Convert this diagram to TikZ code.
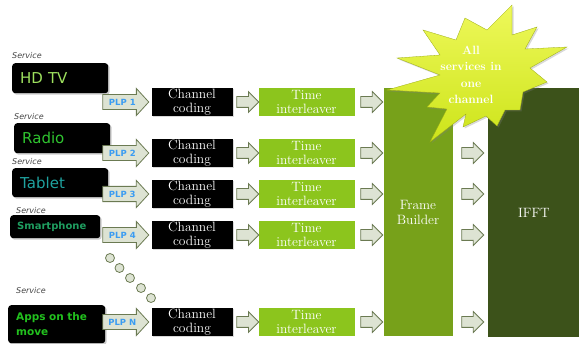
\documentclass[tikz,border=0pt]{standalone}
\usepackage{fontspec}
\usepackage{xcolor}
\usepackage{tikz}
\usetikzlibrary{shapes.arrows, positioning, shadows, calc}
\newfontfamily\svcfont{DejaVu Sans}
\definecolor{plpblue}{HTML}{3A9CF2}
\definecolor{arrowfill}{HTML}{DDE3D3}
\definecolor{arrowline}{HTML}{6B7A52}
\definecolor{tigreen}{HTML}{8CC51D}
\definecolor{fbgreen}{HTML}{77A11A}
\definecolor{ifftgreen}{HTML}{3C521A}
\definecolor{burstlight}{HTML}{EEF85A}
\definecolor{burst}{HTML}{CDE41A}
\definecolor{labelgray}{HTML}{444444}
\definecolor{hdtvgreen}{HTML}{9DE05E}
\definecolor{radiogreen}{HTML}{30C530}
\definecolor{tabletteal}{HTML}{1FA3A0}
\definecolor{phonegreen}{HTML}{1F9E60}
\definecolor{appsgreen}{HTML}{22C11E}

\tikzset{
  svclabel/.style={anchor=west, inner sep=0pt, text=labelgray,
    font=\svcfont\itshape\fontsize{8}{9}\selectfont},
  svcbox/.style={anchor=north west, fill=black, rounded corners=3pt, inner ysep=0pt, align=left,
    drop shadow={opacity=0.4, shadow xshift=1.5pt, shadow yshift=-1.5pt}},
  ccbox/.style={fill=black, text=white, minimum width=81pt, minimum height=28pt, inner sep=0pt,
    align=center, font=\fontsize{13.5}{13.5}\selectfont,
    drop shadow={opacity=0.3, shadow xshift=1pt, shadow yshift=-1pt}},
  tibox/.style={fill=tigreen, draw=white, line width=1pt, text=white, minimum width=97pt,
    minimum height=29pt, inner sep=0pt, align=center, font=\fontsize{13.5}{13.5}\selectfont,
    drop shadow={opacity=0.25, shadow xshift=1pt, shadow yshift=-1pt}},
  plparrow/.style={single arrow, draw=arrowline, line width=0.8pt, fill=arrowfill,
    single arrow head extend=6pt, single arrow tip angle=95, minimum height=46pt,
    inner xsep=1pt, inner ysep=4pt, text=plpblue,
    font=\svcfont\bfseries\fontsize{8.5}{8.5}\selectfont},
  grayarrow/.style={single arrow, draw=arrowline, line width=0.8pt, fill=arrowfill,
    single arrow head extend=5pt, single arrow tip angle=90, minimum height=22pt,
    inner xsep=0pt, inner ysep=5pt},
  bigbox/.style={text=white, draw=white, line width=1pt, inner sep=0pt, align=center,
    font=\fontsize{13.5}{15}\selectfont},
  dotstyle/.style={circle, draw=arrowline, line width=0.8pt, fill=arrowfill, minimum size=9pt,
    inner sep=0pt},
  burststyle/.style={top color=burstlight, bottom color=burst, draw=burst!75!black, line width=0.3pt,
    drop shadow={opacity=0.3, shadow xshift=1.5pt, shadow yshift=-1.5pt}},
  bursttext/.style={text=white, align=center, inner sep=0pt,
    font=\bfseries\fontsize{12}{16.5}\selectfont}
}

\begin{document}
\begin{tikzpicture}[x=1pt, y=-1pt]
  \useasboundingbox (0,0) rectangle (579,344);

  % services
  \node[svclabel] (lbl1) at (12,56) {Service};
  \node[svcbox, text width=80pt, inner xsep=8pt, minimum height=30pt, text=hdtvgreen,
        font=\svcfont\fontsize{15}{16}\selectfont] (hdtv) at (12,63) {HD TV};
  \node[svclabel] (lbl2) at (14,117) {Service};
  \node[svcbox, text width=80pt, inner xsep=8pt, minimum height=30pt, text=radiogreen,
        font=\svcfont\fontsize{15}{16}\selectfont] (radio) at (14,123) {Radio};
  \node[svclabel] (lbl3) at (12,162) {Service};
  \node[svcbox, text width=80pt, inner xsep=8pt, minimum height=29pt, text=tabletteal,
        font=\svcfont\fontsize{15}{16}\selectfont] (tablet) at (12,168) {Tablet};
  \node[svclabel] (lbl4) at (16,211) {Service};
  \node[svcbox, text width=76pt, inner xsep=7pt, minimum height=23pt, text=phonegreen,
        font=\svcfont\bfseries\fontsize{10}{12}\selectfont] (phone) at (10,215) {Smartphone};
  \node[svclabel] (lbl5) at (16,291) {Service};
  \node[svcbox, text width=81pt, inner xsep=8pt, minimum height=38pt, text=appsgreen,
        font=\svcfont\bfseries\fontsize{10.5}{15}\selectfont] (apps) at (8,305) {Apps on the\\move};

  % dots
  \foreach \x/\y [count=\k] in {110/258, 119.5/268, 130/278, 141/288, 151/298}
    \node[dotstyle] (dot\k) at (\x,\y) {};

  % frame builder and ifft
  \node[bigbox, fill=fbgreen, minimum width=70pt, minimum height=249pt] (fb) at (418,212.5) {Frame\\Builder};
  \node[bigbox, fill=ifftgreen, minimum width=94pt, minimum height=250pt] (ifft) at (534,213) {IFFT};

  % chains
  \foreach \i/\y/\plp in {1/102/1, 2/153/2, 3/194/3, 4/235/4, 5/322/N} {
    \node[ccbox] (cc\i) at (192,\y) {Channel\\coding};
    \node[tibox] (ti\i) at (306.5,\y) {Time\\interleaver};
    \node[plparrow, left=2pt of cc\i] (plp\i) {PLP \plp};
    \node[grayarrow] (ca\i) at ($(cc\i.east)!0.5!(ti\i.west)$) {};
    \node[grayarrow] (ta\i) at ($(ti\i.east)!0.5!(ti\i.east -| fb.west)$) {};
  }
  \foreach \i in {2,...,5}
    \node[grayarrow] (fa\i) at ($(ti\i.east -| fb.east)!0.5!(ti\i.east -| ifft.west)$) {};

  % starburst
  \path[burststyle] (397,58) -- (440,55) -- (423,30) -- (456,40) -- (465,18) -- (487,30)
    -- (512,5) -- (512,35) -- (537,27) -- (525,49) -- (567,47) -- (530,68) -- (547,82)
    -- (523,92) -- (520,110) -- (505,110) -- (497,126) -- (486,116) -- (463,127) -- (466,114)
    -- (430,142) -- (447,109) -- (427,107) -- (440,93) -- (387,90) -- (440,75) -- cycle;
  \node[bursttext] (allsvc) at (471,75) {All\\services in\\one\\channel};
\end{tikzpicture}
\end{document}
